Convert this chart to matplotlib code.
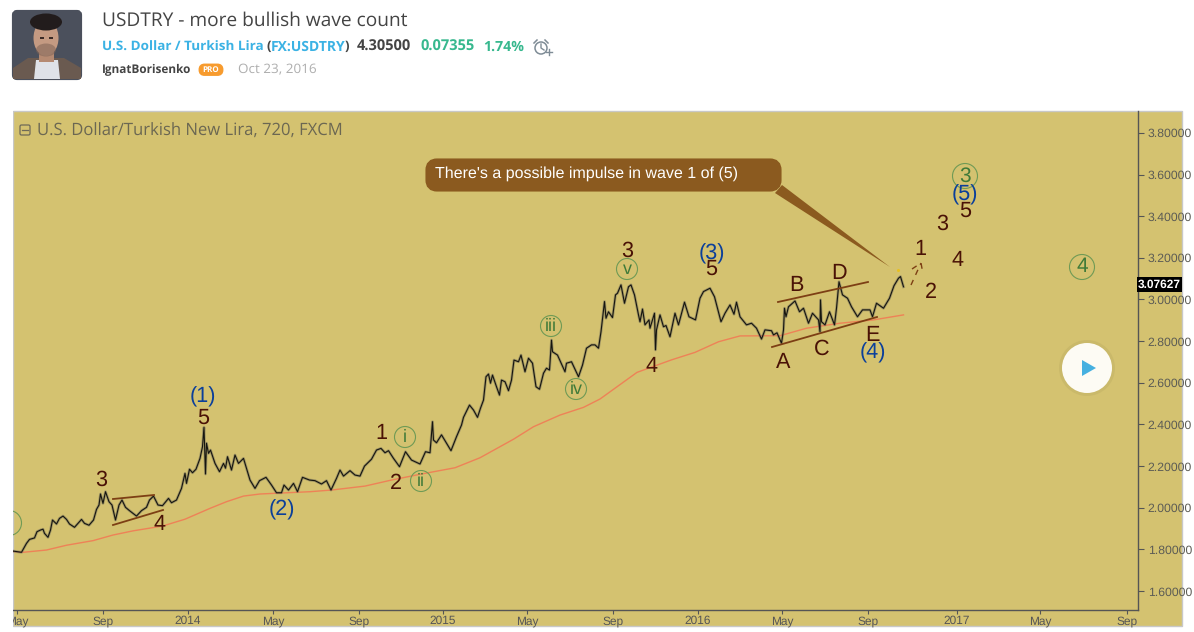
# -*- coding: utf-8 -*-
import matplotlib
matplotlib.use("Agg")
import matplotlib.pyplot as plt
from matplotlib.patches import Rectangle, FancyBboxPatch, Circle, Polygon, Ellipse

plt.rcParams["text.hinting"] = "no_hinting"

W, H = 1194, 632
BG = "#d4c270"
BROWN = "#4a1206"
BLUE = "#0b3f9a"
GREEN = "#3f7a38"
LINE = "#7d3f14"
UI = "Open Sans"
ARIAL = "Liberation Sans"

# x is the bar number of the 12h chart, y is the quote
price = [
    (0, 1.792), (17, 1.786), (27, 1.829), (33, 1.848), (43, 1.855), (48, 1.885), (55, 1.893), (60, 1.897),
    (63, 1.877), (70, 1.858), (75, 1.893), (79, 1.941), (87, 1.922), (93, 1.949), (100, 1.96), (107, 1.944),
    (113, 1.922), (123, 1.906), (130, 1.925), (137, 1.944), (143, 1.925), (152, 1.916), (161, 1.941),
    (167, 1.992), (172, 2.013), (175, 2.066), (180, 2.021), (185, 2.077), (192, 2.029), (198, 2.013),
    (205, 1.941), (212, 2.013), (218, 2.037), (225, 2.002), (233, 1.986), (247, 1.96), (257, 1.986),
    (267, 2.002), (273, 2.037), (281, 2.056), (290, 2.013), (299, 2.01), (311, 2.045), (317, 2.024),
    (327, 2.037), (337, 2.093), (344, 2.165), (347, 2.117), (353, 2.185), (359, 2.168), (366, 2.185),
    (374, 2.237), (379, 2.293), (382, 2.386), (385, 2.162), (387, 2.31), (391, 2.261), (395, 2.277),
    (404, 2.213), (413, 2.173), (421, 2.213), (425, 2.19), (429, 2.245), (437, 2.181), (444, 2.253),
    (451, 2.213), (461, 2.237), (467, 2.189), (474, 2.133), (484, 2.093), (493, 2.13), (506, 2.146),
    (517, 2.109), (527, 2.072), (537, 2.072), (542, 2.109), (551, 2.085), (561, 2.117), (569, 2.077),
    (579, 2.146), (593, 2.133), (604, 2.13), (617, 2.114), (627, 2.13), (636, 2.085), (647, 2.141),
    (654, 2.181), (661, 2.152), (674, 2.178), (684, 2.157), (694, 2.152), (703, 2.2), (717, 2.233),
    (727, 2.277), (736, 2.285), (744, 2.264), (751, 2.274), (761, 2.237), (773, 2.197), (785, 2.269),
    (797, 2.229), (814, 2.21), (825, 2.269), (834, 2.264), (839, 2.413), (841, 2.325), (847, 2.312),
    (857, 2.35), (867, 2.31), (876, 2.274), (887, 2.341), (897, 2.397), (901, 2.434), (913, 2.493),
    (921, 2.469), (929, 2.434), (935, 2.478), (941, 2.517), (946, 2.629), (951, 2.642), (955, 2.598),
    (959, 2.637), (967, 2.581), (973, 2.541), (977, 2.613), (984, 2.605), (991, 2.562), (997, 2.613),
    (1002, 2.709), (1011, 2.701), (1016, 2.733), (1024, 2.653), (1031, 2.718), (1039, 2.694),
    (1046, 2.581), (1053, 2.569), (1061, 2.646), (1067, 2.67), (1073, 2.661), (1077, 2.805),
    (1079, 2.749), (1089, 2.733), (1095, 2.701), (1104, 2.653), (1107, 2.694), (1117, 2.701),
    (1131, 2.629), (1139, 2.685), (1147, 2.766), (1157, 2.782), (1164, 2.782), (1171, 2.766),
    (1176, 2.845), (1183, 2.99), (1186, 2.91), (1191, 2.941), (1199, 2.913), (1205, 3.022), (1209, 3.03),
    (1216, 3.07), (1223, 2.982), (1231, 3.061), (1236, 3.07), (1243, 3.022), (1251, 2.926), (1254, 2.893),
    (1259, 2.954), (1264, 2.878), (1272, 2.902), (1274, 2.862), (1283, 2.934), (1285, 2.758), (1287, 2.854),
    (1294, 2.926), (1301, 2.869), (1306, 2.875), (1314, 2.821), (1324, 2.934), (1331, 2.878), (1343, 2.987),
    (1352, 2.917), (1365, 2.902), (1374, 3.006), (1381, 3.038), (1394, 3.054), (1403, 3.013), (1409, 2.958),
    (1416, 2.893), (1424, 2.934), (1434, 2.974), (1442, 2.929), (1447, 2.987), (1454, 2.917), (1467, 2.878),
    (1477, 2.886), (1487, 2.862), (1497, 2.81), (1504, 2.854), (1517, 2.85), (1521, 2.83), (1528, 2.84),
    (1537, 2.79), (1541, 2.854), (1543, 2.958), (1546, 2.917), (1551, 2.965), (1564, 2.993), (1573, 2.941),
    (1581, 2.958), (1591, 2.886), (1599, 2.934), (1611, 2.902), (1614, 2.845), (1615, 2.998), (1617, 2.893),
    (1624, 2.878), (1633, 2.941), (1643, 2.878), (1647, 2.958), (1652, 3.085), (1659, 3.022), (1669, 3.006),
    (1677, 2.965), (1689, 2.917), (1699, 2.95), (1714, 2.95), (1719, 2.917), (1727, 2.982), (1741, 2.958),
    (1753, 3.006), (1762, 3.066), (1771, 3.102), (1775, 3.11), (1781, 3.061),
]
moving_avg = [
    (0, 1.79), (20, 1.786), (67, 1.797), (107, 1.82), (160, 1.842), (200, 1.869), (240, 1.889), (299, 1.912),
    (344, 1.945), (394, 1.997), (427, 2.029), (461, 2.056), (494, 2.066), (594, 2.077), (637, 2.085),
    (704, 2.104), (757, 2.133), (817, 2.162), (884, 2.192), (934, 2.24), (1001, 2.329), (1041, 2.389),
    (1094, 2.445), (1141, 2.482), (1174, 2.522), (1248, 2.65), (1317, 2.71), (1364, 2.746), (1411, 2.797),
    (1454, 2.825), (1534, 2.826), (1587, 2.862), (1654, 2.886), (1721, 2.902), (1781, 2.926),
]
time_ticks = [(8, "May"), (180, "Sep"), (350, "2014"), (520, "May"), (692, "Sep"), (860, "2015"),
              (1028, "May"), (1200, "Sep"), (1370, "2016"), (1538, "May"), (1710, "Sep"),
              (1888, "2017"), (2054, "May"), (2228, "Sep")]
price_ticks = [1.6, 1.8, 2.0, 2.2, 2.4, 2.6, 2.8, 3.0, 3.2, 3.4, 3.6, 3.8]

# wave labels, page pixels: text, x, y, colour
wave_labels = [
    ("3", 101, 479, BROWN), ("4", 160, 523, BROWN), ("(1)", 203, 396, BLUE), ("5", 203, 417, BROWN),
    ("(2)", 282, 509, BLUE), ("1", 381, 432, BROWN), ("2", 396, 482, BROWN), ("3", 627, 250, BROWN),
    ("4", 652, 365, BROWN), ("(3)", 712, 253, BLUE), ("5", 711, 268, BROWN), ("A", 783, 361, BROWN),
    ("B", 796, 284, BROWN), ("C", 822, 348, BROWN), ("D", 839, 272, BROWN), ("E", 872, 334, BROWN),
    ("(4)", 873, 352, BLUE), ("1", 920, 248, BROWN), ("2", 931, 291, BROWN), ("3", 942, 223, BROWN),
    ("4", 958, 259, BROWN), ("5", 965, 210, BROWN), ("(5)", 965, 194, BLUE),
]
circled = [("i", 405, 437, 10.5, 13), ("ii", 421, 481, 10.5, 13), ("iii", 551, 326, 10.5, 13),
           ("iv", 576, 389, 10.5, 13), ("v", 627, 269, 10.5, 13), ("3", 965, 176, 12.5, 15),
           ("4", 1082, 267, 12.5, 15), ("", 9, 523, 12.5, 15)]
trend_lines = [((113, 499), (154, 495)), ((113, 525), (163, 510)),
               ((778, 302), (868, 282)), ((772, 347), (877, 317))]

fig = plt.figure(figsize=(W / 100, H / 100), dpi=100, facecolor="white")
fig.add_artist(Rectangle((13 / W, 1 - 626 / H), 1169 / W, 515 / H, transform=fig.transFigure,
                         facecolor=BG, edgecolor="#c8c8c8", linewidth=1, zorder=-1))

# ----- chart -----
ax = fig.add_axes([13 / W, 1 - 610 / H, 1125 / W, 499 / H], facecolor="none")
ax.plot(*zip(*moving_avg), color="#ee8257", linewidth=1, zorder=2)
ax.plot(*zip(*price), color="#6e6a5a", linewidth=2.0, alpha=0.5, zorder=3)
ax.plot(*zip(*price), color="#15150f", linewidth=0.8, zorder=4)
ax.plot([1770], [3.14], marker="o", markersize=1.2, color="#e8c020", zorder=4)
ax.set_xlim(0, 2250)
ax.set_ylim(1.509, 3.905)
ax.set_xticks([t[0] for t in time_ticks])
ax.set_xticklabels([t[1] for t in time_ticks], fontfamily=ARIAL, fontsize=8.6, color="#555555")
ax.yaxis.tick_right()
ax.set_yticks(price_ticks)
ax.set_yticklabels(["%.5f" % p for p in price_ticks], fontfamily=ARIAL, fontsize=8.8, color="#5c5c55")
ax.tick_params(axis="y", color="#555555", length=4, width=0.8, pad=3)
ax.tick_params(axis="x", color="#555555", length=3, width=0.8, pad=1)
for side in ("top", "left"):
    ax.spines[side].set_visible(False)
for side in ("right", "bottom"):
    ax.spines[side].set_color("#555555")
    ax.spines[side].set_linewidth(1)

# ----- page furniture and drawings, in pixels -----
ov = fig.add_axes([0, 0, 1, 1], facecolor="none")
ov.set_xlim(0, W)
ov.set_ylim(H, 0)
ov.axis("off")

# avatar
ov.add_patch(FancyBboxPatch((14, 12), 66, 66, boxstyle="round,pad=0,rounding_size=3", fc="#4b505c", ec="#4b505c", lw=3))
ov.add_patch(Polygon([(13, 79), (13, 68), (28, 58), (64, 58), (81, 68), (81, 79)], fc="#6a5a50"))
ov.add_patch(Polygon([(34, 79), (36, 60), (58, 60), (60, 79)], fc="#dfe2e8"))
ov.add_patch(Rectangle((39, 46), 15, 16, fc="#b58a72"))
ov.add_patch(Ellipse((46, 38), 25, 36, fc="#c49a82"))
ov.add_patch(Ellipse((46, 50), 20, 13, fc="#7d6255", alpha=0.55))
ov.add_patch(Ellipse((46, 22), 32, 17, fc="#221c1c"))
ov.add_patch(Polygon([(40, 37), (44, 37), (44, 38.5), (40, 38.5)], fc="#3a2a26"))
ov.add_patch(Polygon([(49, 37), (53, 37), (53, 38.5), (49, 38.5)], fc="#3a2a26"))

# header text
ov.text(102, 21, "USDTRY - more bullish wave count", fontfamily=UI, fontsize=13.8, color="#444444", va="center")
ov.text(102, 47, "U.S. Dollar / Turkish Lira", fontfamily=UI, fontsize=9.7, fontweight="bold", color="#3bb2e4", va="center")
ov.text(266, 47, "(", fontfamily=UI, fontsize=9.6, fontweight="bold", color="#444444", va="center")
ov.text(271, 47, "FX:USDTRY", fontfamily=UI, fontsize=10, fontweight="bold", color="#3bb2e4", va="center")
ov.text(345, 47, ")", fontfamily=UI, fontsize=9.6, fontweight="bold", color="#444444", va="center")
ov.text(357, 47, "4.30500", fontfamily=UI, fontsize=10.5, fontweight="bold", color="#444444", va="center")
ov.text(420, 47, "0.07355", fontfamily=UI, fontsize=10.5, fontweight="bold", color="#37b88e", va="center")
ov.text(483, 47, "1.74%", fontfamily=UI, fontsize=10.2, fontweight="bold", color="#37b88e", va="center")
ov.add_patch(Circle((541, 48), 6, fc="none", ec="#7f8c96", lw=1.1))
ov.plot([541, 541, 544], [44, 48, 50], color="#7f8c96", lw=1)
ov.plot([534, 537], [43, 40], color="#7f8c96", lw=1.1)
ov.plot([545, 548], [40, 43], color="#7f8c96", lw=1.1)
ov.plot([546, 552], [52, 52], color="#7f8c96", lw=1)
ov.plot([549, 549], [49, 55], color="#7f8c96", lw=1)
ov.text(102, 70, "IgnatBorisenko", fontfamily=UI, fontsize=8.5, fontweight="bold", color="#444444", va="center")
ov.add_patch(FancyBboxPatch((201, 66), 20, 7.5, boxstyle="round,pad=0,rounding_size=3.5", fc="#f79b2e", ec="#f79b2e", lw=3.5))
ov.text(211, 70, "PRO", fontfamily=UI, fontsize=5.8, fontweight="bold", color="white", ha="center", va="center")
ov.text(238, 70, "Oct 23, 2016", fontfamily=UI, fontsize=9.7, color="#aeaeae", va="center")

# chart legend line
ov.add_patch(FancyBboxPatch((20, 125), 10, 10, boxstyle="round,pad=0,rounding_size=1.5", fc="none", ec="#6e6a58", lw=0.9))
ov.plot([22, 28], [130, 130], color="#6e6a58", lw=0.9)
ov.text(37, 131, "U.S. Dollar/Turkish New Lira, 720, FXCM", fontfamily=UI, fontsize=12, color="#6b6752", va="center")

# callout
ov.add_patch(Polygon([(775, 193), (782, 185), (890, 267)], fc="#8b5a1f", ec="none"))
ov.add_patch(FancyBboxPatch((431, 164), 345, 22, boxstyle="round,pad=0,rounding_size=6", fc="#8b5a1f", ec="#8b5a1f", lw=8))
ov.text(435, 174, "There's a possible impulse in wave 1 of (5)", fontfamily=ARIAL, fontsize=11.5, color="white", va="center")

# drawings
for a, b in trend_lines:
    ov.plot([a[0], b[0]], [a[1], b[1]], color=LINE, lw=1.3)
ov.plot([911, 921], [285, 263], color=LINE, lw=1, dashes=(4, 4))
ov.plot([912, 921, 923], [269, 263, 274], color=LINE, lw=1, dashes=(4, 4))
for txt, x, y, c in wave_labels:
    ov.text(x, y + 1, txt, fontfamily=ARIAL, fontsize=15.6, color=c, ha="center", va="center")
for txt, x, y, r, size in circled:
    ov.add_patch(Circle((x, y), r, fc="none", ec="#6f9a55", lw=0.8))
    ov.text(x, y, txt, fontfamily=ARIAL, fontsize=size, color=GREEN, ha="center", va="center")

# last price tag
ov.add_patch(Rectangle((1137, 277), 45, 15, fc="black", ec="none"))
ov.text(1159.5, 284.5, "3.07627", fontfamily=ARIAL, fontsize=8.6, fontweight="bold", color="white", ha="center", va="center")

# play button
ov.add_patch(Circle((1087, 368), 28, fc="#b9a95f", ec="none", alpha=0.35))
ov.add_patch(Circle((1087, 368), 25, fc="#fdfbf4", ec="none"))
ov.add_patch(Polygon([(1082, 360), (1096, 368), (1082, 376)], fc="#46b0e0", ec="none"))

# hides whatever the chart pushes past its left edge
ov.add_patch(Rectangle((0, 110), 12.5, 520, fc="white", ec="none", zorder=10))

fig.savefig("out.png", dpi=100)
